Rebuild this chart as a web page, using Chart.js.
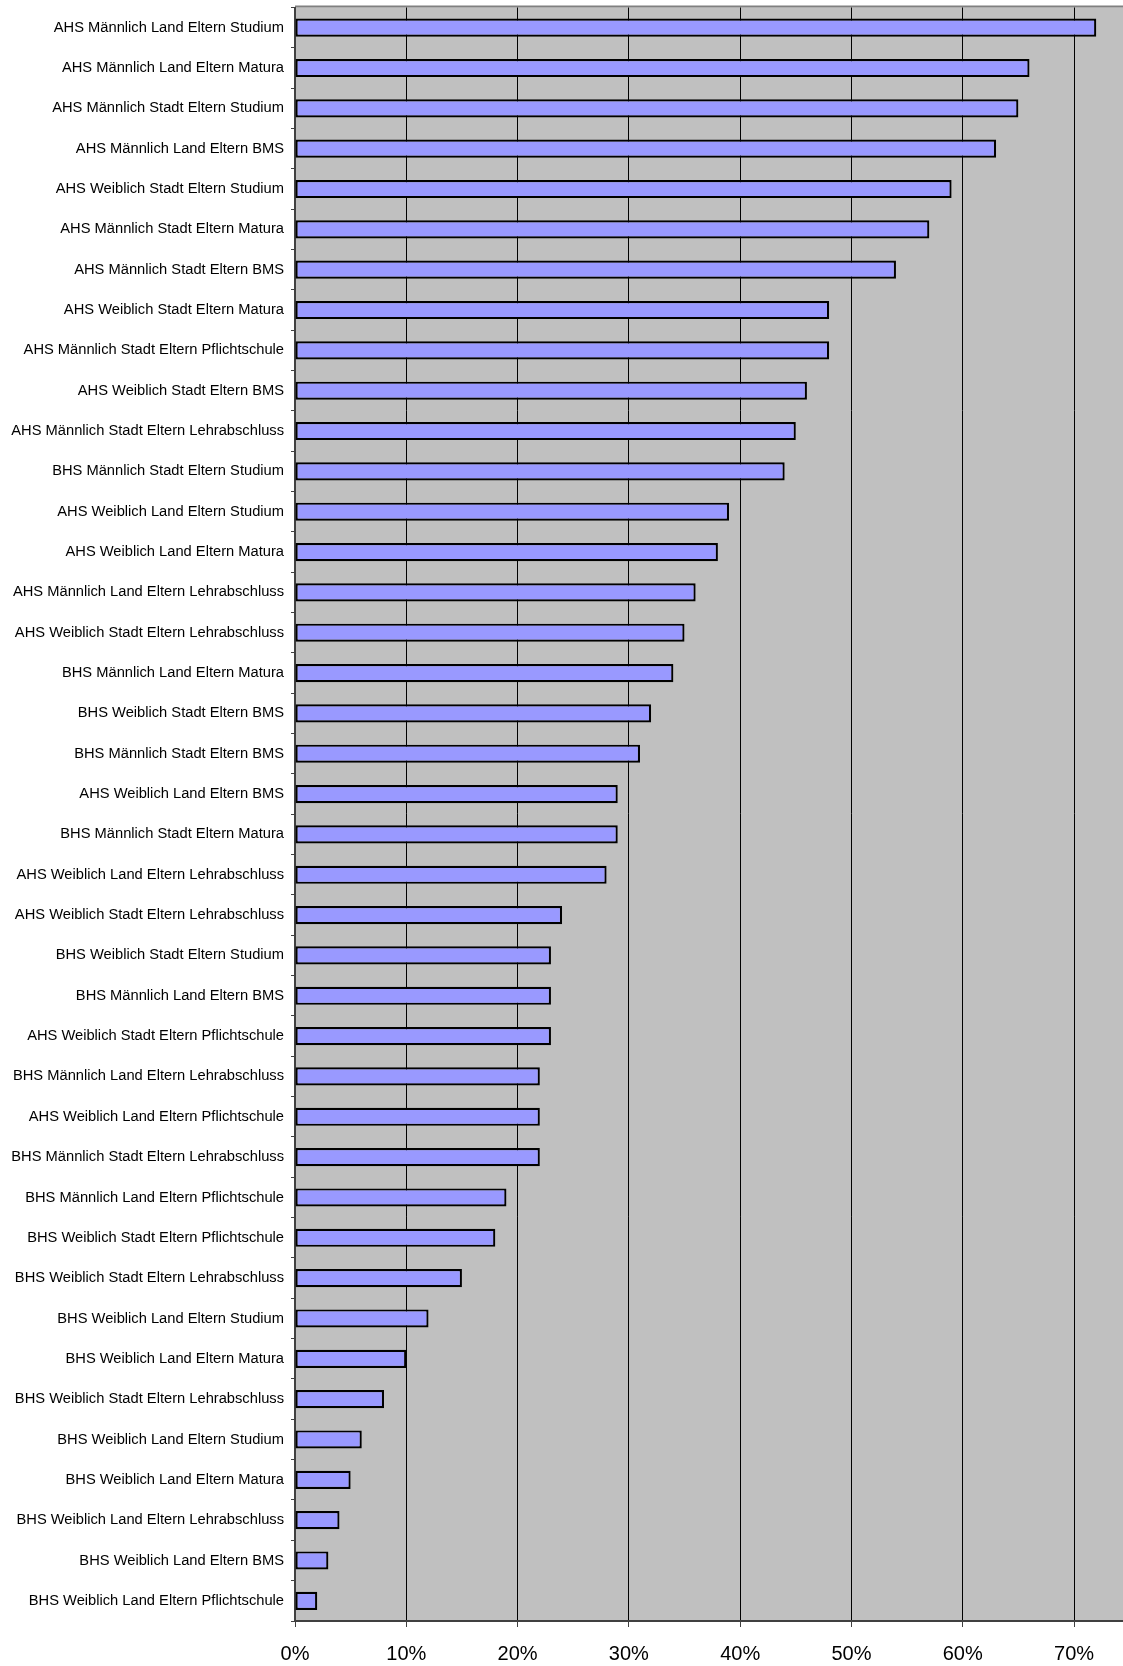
<!DOCTYPE html>
<html>
<head>
<meta charset="utf-8">
<script src="https://cdn.jsdelivr.net/npm/chart.js@4/dist/chart.umd.min.js"></script>
<style>
  html, body { margin: 0; padding: 0; background: #fff; }
  #wrap { width: 1123px; height: 1666px; position: relative; }
</style>
</head>
<body>
<div id="wrap"><canvas id="c"></canvas></div>
<script>
const categories = [
  "AHS Männlich Land Eltern Studium",
  "AHS Männlich Land Eltern Matura",
  "AHS Männlich Stadt Eltern Studium",
  "AHS Männlich Land Eltern BMS",
  "AHS Weiblich Stadt Eltern Studium",
  "AHS Männlich Stadt Eltern Matura",
  "AHS Männlich Stadt Eltern BMS",
  "AHS Weiblich Stadt Eltern Matura",
  "AHS Männlich Stadt Eltern Pflichtschule",
  "AHS Weiblich Stadt Eltern BMS",
  "AHS Männlich Stadt Eltern Lehrabschluss",
  "BHS Männlich Stadt Eltern Studium",
  "AHS Weiblich Land Eltern Studium",
  "AHS Weiblich Land Eltern Matura",
  "AHS Männlich Land Eltern Lehrabschluss",
  "AHS Weiblich Stadt Eltern Lehrabschluss",
  "BHS Männlich Land Eltern Matura",
  "BHS Weiblich Stadt Eltern BMS",
  "BHS Männlich Stadt Eltern BMS",
  "AHS Weiblich Land Eltern BMS",
  "BHS Männlich Stadt Eltern Matura",
  "AHS Weiblich Land Eltern Lehrabschluss",
  "AHS Weiblich Stadt Eltern Lehrabschluss",
  "BHS Weiblich Stadt Eltern Studium",
  "BHS Männlich Land Eltern BMS",
  "AHS Weiblich Stadt Eltern Pflichtschule",
  "BHS Männlich Land Eltern Lehrabschluss",
  "AHS Weiblich Land Eltern Pflichtschule",
  "BHS Männlich Stadt Eltern Lehrabschluss",
  "BHS Männlich Land Eltern Pflichtschule",
  "BHS Weiblich Stadt Eltern Pflichtschule",
  "BHS Weiblich Stadt Eltern Lehrabschluss",
  "BHS Weiblich Land Eltern Studium",
  "BHS Weiblich Land Eltern Matura",
  "BHS Weiblich Stadt Eltern Lehrabschluss",
  "BHS Weiblich Land Eltern Studium",
  "BHS Weiblich Land Eltern Matura",
  "BHS Weiblich Land Eltern Lehrabschluss",
  "BHS Weiblich Land Eltern BMS",
  "BHS Weiblich Land Eltern Pflichtschule"
];

const values = [
  72, 66, 65, 63, 59, 57, 54, 48, 48, 46,
  45, 44, 39, 38, 36, 35, 34, 32, 31, 29,
  29, 28, 24, 23, 23, 23, 22, 22, 22, 19,
  18, 15, 12, 10, 8, 6, 5, 4, 3, 2
];

const xTickValues = [0, 10, 20, 30, 40, 50, 60, 70];
const xMin = 0;
const xMax = 74.4;

const plotBg = {
  id: 'plotBg',
  beforeDraw(chart) {
    const a = chart.chartArea, ctx = chart.ctx;
    ctx.save();
    ctx.fillStyle = '#C0C0C0';
    ctx.fillRect(a.left, a.top, a.right - a.left, a.bottom - a.top);
    ctx.strokeStyle = '#808080';
    ctx.lineWidth = 2;
    ctx.beginPath();
    ctx.moveTo(a.left, a.top - 1);
    ctx.lineTo(a.right, a.top - 1);
    ctx.stroke();
    ctx.restore();
  }
};

new Chart(document.getElementById('c'), {
  type: 'bar',
  data: {
    labels: categories,
    datasets: [{
      data: values,
      backgroundColor: '#9999FF',
      borderColor: '#000000',
      borderWidth: 2.2,
      borderSkipped: false,
      barPercentage: 0.45,
      categoryPercentage: 1.0
    }]
  },
  options: {
    indexAxis: 'y',
    responsive: true,
    maintainAspectRatio: false,
    animation: false,
    layout: { padding: { top: 7.5, left: 0, right: 0, bottom: 0 } },
    plugins: { legend: { display: false }, tooltip: { enabled: false } },
    scales: {
      x: {
        type: 'linear',
        min: xMin,
        max: xMax,
        afterBuildTicks(scale) {
          scale.ticks = xTickValues.map(v => ({ value: v }));
        },
        afterFit(scale) { scale.height = 45; scale.paddingLeft = 0; scale.paddingRight = 0; },
        grid: {
          color: '#000000',
          lineWidth: 1,
          drawTicks: true,
          tickLength: 6,
          tickColor: '#404040'
        },
        border: { color: '#404040', width: 2 },
        ticks: {
          padding: 15,
          color: '#000000',
          maxRotation: 0,
          font: { family: 'Liberation Sans, Arial, sans-serif', size: 20 },
          callback: v => v + '%'
        }
      },
      y: {
        type: 'category',
        offset: true,
        afterFit(scale) { scale.width = 295; scale.paddingTop = 0; scale.paddingBottom = 0; },
        grid: {
          offset: true,
          drawOnChartArea: false,
          drawTicks: true,
          tickLength: 4,
          tickColor: '#404040'
        },
        border: { color: '#404040', width: 2 },
        ticks: {
          padding: 7,
          autoSkip: false,
          color: '#000000',
          font: { family: 'Liberation Sans, Arial, sans-serif', size: 14.7 }
        }
      }
    }
  },
  plugins: [plotBg]
});
</script>
</body>
</html>
